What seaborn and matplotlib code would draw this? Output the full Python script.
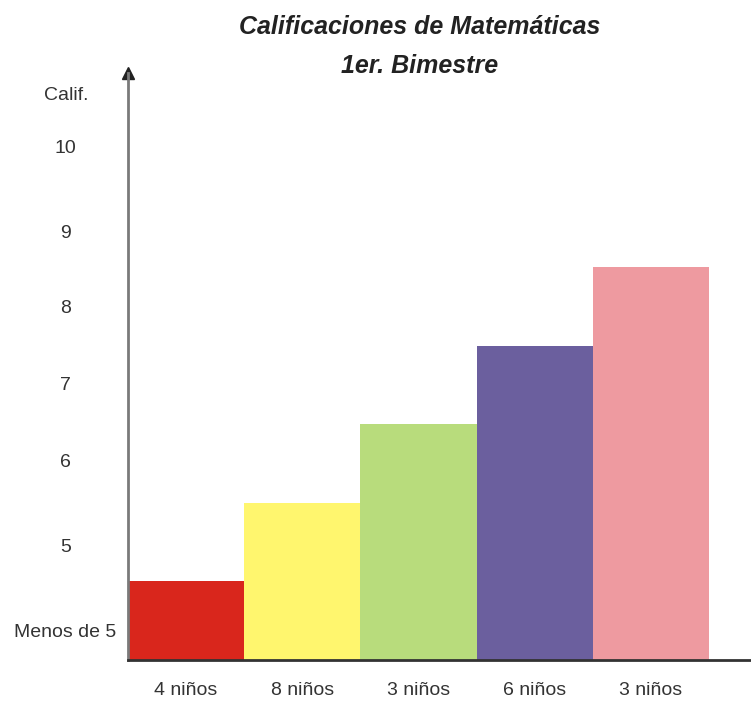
import pandas as pd
import seaborn as sns
import matplotlib.pyplot as plt

# data
grades = ["Menos de 5", "5", "6", "7", "8"]
kids = ["4 niños", "8 niños", "3 niños", "6 niños", "3 niños"]
heights = [1, 2, 3, 4, 5]
colors = ["#D9261C", "#FFF66E", "#B8DC7C", "#6B5F9E", "#EE9AA0"]
ytick_labels = ["Menos de 5", "5", "6", "7", "8", "9", "10"]
ytick_pos = [0.38, 1.46, 2.54, 3.52, 4.50, 5.45, 6.53]

df = pd.DataFrame({"grade": grades, "kids": kids, "height": heights})

sns.set_style("white")
plt.rcParams["font.family"] = ["Liberation Sans", "DejaVu Sans"]

fig = plt.figure(figsize=(7.51, 7.02), dpi=100)
ax = fig.add_axes([128 / 751, 42 / 702, 623 / 751, 587 / 702])

sns.barplot(data=df, x="grade", y="height", hue="grade", palette=colors,
            width=1.0, saturation=1, legend=False, edgecolor="none", ax=ax)

ax.set_xlim(-0.5, 4.86)
ax.set_ylim(0, 7.47)
ax.set_xticks(range(len(kids)))
ax.set_xticklabels(kids, fontsize=14, color="#333333")
ax.set_yticks(ytick_pos)
ax.set_yticklabels(ytick_labels, fontsize=14, color="#333333")
for lab in ax.get_yticklabels():
    lab.set_horizontalalignment("center")
ax.tick_params(axis="y", length=0, pad=45)
ax.tick_params(axis="x", length=0, pad=16)
ax.set_xlabel("")
ax.set_ylabel("")

ax.text(-62 / 623, 7.18, "Calif.", transform=ax.get_yaxis_transform(),
        ha="center", va="center", fontsize=14, color="#333333")

for s in ["top", "right"]:
    ax.spines[s].set_visible(False)
ax.spines["left"].set_color("#7a7a7a")
ax.spines["left"].set_linewidth(2)
ax.spines["bottom"].set_color("#333333")
ax.spines["bottom"].set_linewidth(2)
ax.plot(0, 1, marker="^", markersize=8, color="#222222",
        transform=ax.transAxes, clip_on=False)

fig.text(420 / 751, 1 - 27 / 702, "Calificaciones de Matemáticas",
         ha="center", va="center", fontsize=18, fontweight="bold",
         fontstyle="italic", color="#222222")
fig.text(420 / 751, 1 - 66 / 702, "1er. Bimestre",
         ha="center", va="center", fontsize=18, fontweight="bold",
         fontstyle="italic", color="#222222")

fig.savefig("out.png", dpi=100)
